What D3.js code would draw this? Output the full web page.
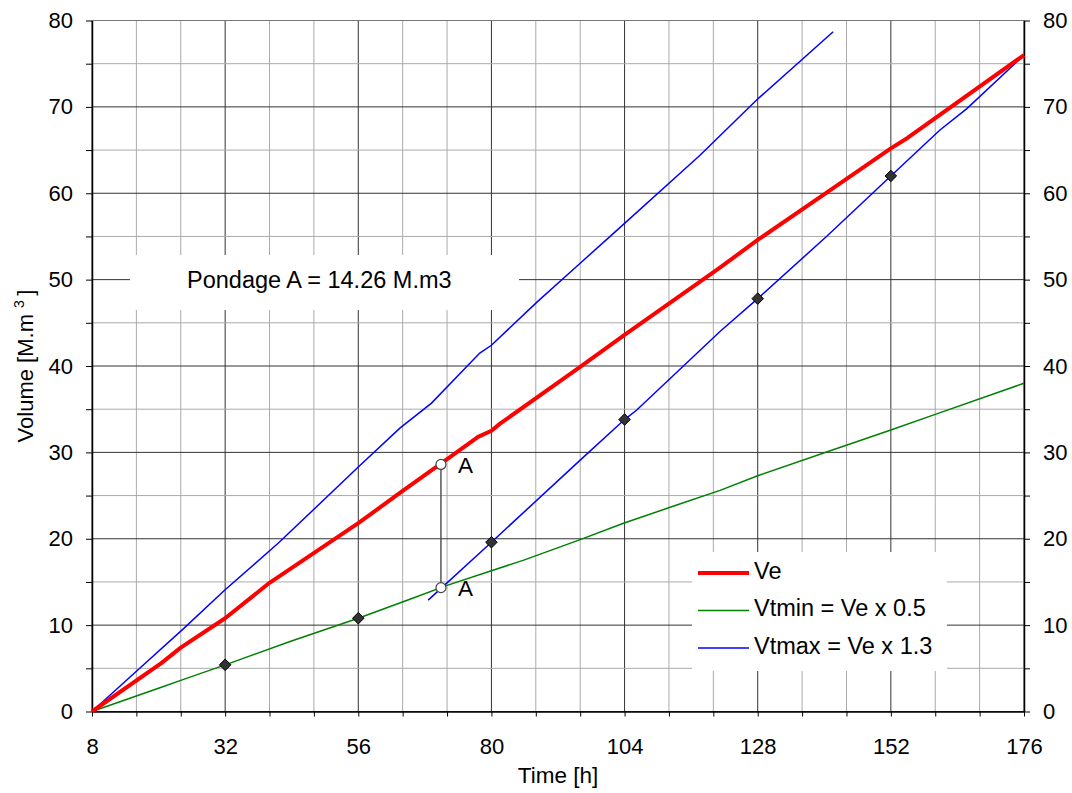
<!DOCTYPE html>
<html>
<head>
<meta charset="utf-8">
<script src="https://cdn.jsdelivr.net/npm/d3@7"></script>
<style>
    body { margin: 0; background: #fff; }
    svg text { font-family: Arial, "Liberation Sans", sans-serif; fill: #000; }
</style>
</head>
<body>
<div id="chart"></div>
<script>
// Volume vs time - Ve, Vtmin, Vtmax and pondage A

// Ve (red)
const veTime  = [8, 20.5, 24, 32, 40, 56, 63.5, 70.7, 77.6, 80, 81.5, 96, 104, 121, 128, 141.6, 152, 155, 176];
const veValue = [0, 5.6, 7.4, 10.8, 14.9, 21.8, 25.3, 28.6, 31.8, 32.5, 33.3, 39.9, 43.6, 51.3, 54.6, 60.6, 65.2, 66.4, 76.0];

// Vtmin (green)
const vtminTime  = [8, 20.5, 24, 32, 43.7, 56, 65.3, 72, 80, 85.7, 96, 103.8, 113.4, 121.2, 128, 141.6, 152, 160, 176];
const vtminValue = [0, 2.8, 3.6, 5.4, 8.1, 10.8, 13.0, 14.6, 16.3, 17.5, 19.9, 21.8, 23.9, 25.6, 27.3, 30.3, 32.6, 34.4, 38.0];

// Vtmax (blue, upper)
const vtmaxTime  = [8, 16.6, 24.5, 32, 41.6, 56, 63.5, 69.2, 77.9, 80, 88.2, 96, 102.6, 117.6, 127.8, 141.6];
const vtmaxValue = [0, 5.0, 9.6, 14.1, 19.5, 28.3, 32.8, 35.7, 41.5, 42.4, 47.4, 51.9, 55.7, 64.4, 70.8, 78.7];

// Vtmax shifted (blue, lower)
const vtmax2Time  = [68.6, 80, 96, 104, 106.2, 121.2, 128, 140.4, 152, 160.8, 165.7, 176];
const vtmax2Value = [12.9, 19.6, 29.1, 33.8, 34.9, 44.0, 47.8, 55.0, 62.0, 67.3, 69.8, 76.0];

// black diamonds
const markerTime  = [32, 56, 80, 104, 128, 152];
const markerValue = [5.4, 10.8, 19.6, 33.8, 47.8, 62.0];

// pondage A points
const pointATime  = [70.9, 70.9];
const pointAValue = [28.6, 14.34];

const xTickLabels = [8, 32, 56, 80, 104, 128, 152, 176];
const yTickLabels = [0, 10, 20, 30, 40, 50, 60, 70, 80];
const legendNames = ["Ve", "Vtmin = Ve x 0.5", "Vtmax = Ve x 1.3"];
const pondageText = "Pondage A = 14.26 M.m3";

function createChart() {
    const width = 1072;
    const height = 793;

    const svg = d3.select("#chart").append("svg")
        .attr("width", width)
        .attr("height", height);

    const x = d3.scaleLinear().domain([8, 176]).range([92, 1024]);
    const y = d3.scaleLinear().domain([0, 80]).range([711.5, 20.5]);

    // Grid
    const grid = svg.append("g");
    grid.selectAll(".vgrid")
        .data(d3.range(8, 177, 8))
        .enter().append("line")
        .attr("x1", d => x(d)).attr("x2", d => x(d))
        .attr("y1", y(80)).attr("y2", y(0))
        .attr("stroke", d => (d - 8) % 24 === 0 ? "#333" : "#aaa")
        .attr("stroke-width", 1);

    grid.selectAll(".hgrid")
        .data(d3.range(0, 81, 5))
        .enter().append("line")
        .attr("x1", x(8)).attr("x2", x(176))
        .attr("y1", d => y(d)).attr("y2", d => y(d))
        .attr("stroke", d => d === 80 ? "#777" : (d % 10 === 0 ? "#333" : "#aaa"))
        .attr("stroke-width", 1);

    // Pondage label box
    svg.append("rect")
        .attr("x", 130).attr("y", 255)
        .attr("width", 389).attr("height", 55)
        .attr("fill", "#fff");
    svg.append("text")
        .attr("x", 187).attr("y", 288)
        .style("font-size", "23.5px")
        .text(pondageText);

    // Axes
    const tickFmt = d => yTickLabels.includes(d) ? d : "";
    const yLeft = svg.append("g")
        .attr("transform", `translate(${x(8)},0)`)
        .call(d3.axisLeft(y).tickValues(d3.range(0, 81, 5)).tickFormat(tickFmt)
            .tickSize(6).tickSizeOuter(0).tickPadding(13));
    const yRight = svg.append("g")
        .attr("transform", `translate(${x(176)},0)`)
        .call(d3.axisRight(y).tickValues(d3.range(0, 81, 5)).tickFormat(tickFmt)
            .tickSize(6).tickSizeOuter(0).tickPadding(13));
    const xBottom = svg.append("g")
        .attr("transform", `translate(0,${y(0)})`)
        .call(d3.axisBottom(x).tickValues(d3.range(8, 177, 8))
            .tickFormat(d => xTickLabels.includes(d) ? d : "")
            .tickSize(5).tickSizeOuter(0).tickPadding(21.5));

    [yLeft, yRight, xBottom].forEach(g => {
        g.select(".domain").attr("stroke", "#000").attr("stroke-width", 1.5);
        g.selectAll(".tick line").attr("stroke", "#000").attr("stroke-width", 1);
        g.selectAll(".tick text")
            .style("font-size", "22px")
            .attr("font-family", null)
            .attr("fill", "#000");
    });

    // Axis titles
    svg.append("text")
        .attr("x", (x(8) + x(176)) / 2).attr("y", 783)
        .attr("text-anchor", "middle")
        .style("font-size", "22.5px")
        .text("Time [h]");

    const yTitle = svg.append("text")
        .attr("transform", `translate(33,${(y(0) + y(80)) / 2}) rotate(-90)`)
        .attr("text-anchor", "middle")
        .style("font-size", "22px");
    yTitle.append("tspan").text("Volume [M.m ");
    yTitle.append("tspan").attr("dy", -9).style("font-size", "14px").text("3");
    yTitle.append("tspan").attr("dy", 9).text("\u2009]");

    // Lines
    const line = d3.line().x(d => x(d[0])).y(d => y(d[1]));

    svg.append("path")
        .datum(d3.zip(vtminTime, vtminValue))
        .attr("d", line).attr("fill", "none")
        .attr("stroke", "#008000").attr("stroke-width", 1.5);

    svg.append("path")
        .datum(d3.zip(vtmaxTime, vtmaxValue))
        .attr("d", line).attr("fill", "none")
        .attr("stroke", "#0000ff").attr("stroke-width", 1.5);

    svg.append("path")
        .datum(d3.zip(vtmax2Time, vtmax2Value))
        .attr("d", line).attr("fill", "none")
        .attr("stroke", "#0000ff").attr("stroke-width", 1.5);

    svg.append("path")
        .datum(d3.zip(veTime, veValue))
        .attr("d", line).attr("fill", "none")
        .attr("stroke", "#ff0000").attr("stroke-width", 4)
        .attr("stroke-linejoin", "round");

    // Diamonds
    svg.selectAll(".diamond")
        .data(d3.zip(markerTime, markerValue))
        .enter().append("path")
        .attr("d", d3.symbol().type(d3.symbolDiamond2).size(85))
        .attr("transform", d => `translate(${x(d[0])},${y(d[1])})`)
        .attr("fill", "#333").attr("stroke", "#000").attr("stroke-width", 1);

    // Pondage A
    const ptA = d3.zip(pointATime, pointAValue);
    svg.append("line")
        .attr("x1", x(ptA[0][0])).attr("x2", x(ptA[1][0]))
        .attr("y1", y(ptA[0][1])).attr("y2", y(ptA[1][1]))
        .attr("stroke", "#555").attr("stroke-width", 1.5);

    svg.selectAll(".ptA")
        .data(ptA)
        .enter().append("circle")
        .attr("cx", d => x(d[0])).attr("cy", d => y(d[1]))
        .attr("r", 5)
        .attr("fill", "#fff").attr("stroke", "#444").attr("stroke-width", 1.2);

    svg.selectAll(".ptALabel")
        .data(ptA)
        .enter().append("text")
        .attr("x", d => x(d[0]) + 17).attr("y", d => y(d[1]) + 8.5)
        .style("font-size", "22.5px")
        .text("A");

    // Legend
    const legend = svg.append("g");
    legend.append("rect")
        .attr("x", 692).attr("y", 552)
        .attr("width", 255).attr("height", 119)
        .attr("fill", "#fff");

    const legendColors = ["#ff0000", "#008000", "#0000ff"];
    const legendWidths = [4, 1.5, 1.5];
    legendNames.forEach((name, i) => {
        const ly = 573 + i * 37.5;
        legend.append("line")
            .attr("x1", 698).attr("x2", 749)
            .attr("y1", ly).attr("y2", ly)
            .attr("stroke", legendColors[i]).attr("stroke-width", legendWidths[i]);
        legend.append("text")
            .attr("x", 754).attr("y", ly + 5.5)
            .style("font-size", "23.5px")
            .text(name);
    });
}

createChart();
</script>
</body>
</html>
